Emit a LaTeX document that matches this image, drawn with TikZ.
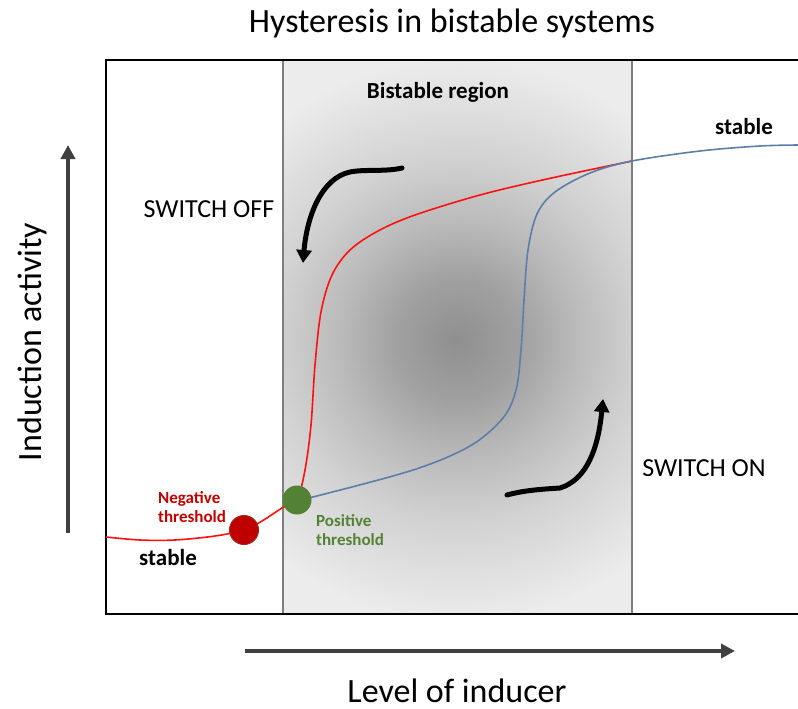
\documentclass[tikz,border=0pt]{standalone}
\usepackage{fontspec}
\setmainfont{Carlito}
\usetikzlibrary{arrows.meta}

\definecolor{thrred}{HTML}{C00000}
\definecolor{thrredrim}{HTML}{9A2A20}
\definecolor{thrgreen}{HTML}{548235}
\definecolor{curvered}{HTML}{FF1010}
\definecolor{curveblue}{HTML}{5A7FA8}
\definecolor{axisgray}{HTML}{404040}
\definecolor{bandedge}{HTML}{7F7F7F}

% grey levels of the bistable band, from its centre outwards
\definecolor{shA}{gray}{0.56}
\definecolor{shB}{gray}{0.63}
\definecolor{shC}{gray}{0.73}
\definecolor{shD}{gray}{0.82}
\definecolor{shE}{gray}{0.925}
\pgfdeclareradialshading{bistableshade}{\pgfpoint{0bp}{0bp}}{%
  color(0bp)=(shA); color(5.5bp)=(shB); color(10.5bp)=(shC);
  color(16bp)=(shD); color(25bp)=(shE); color(50bp)=(shE)}

\begin{document}
\begin{tikzpicture}[x=1pt,y=-1pt,
  bigtext/.style={font=\fontsize{34}{40}\selectfont, inner sep=0},
  switchtext/.style={font=\fontsize{26}{30}\selectfont, inner sep=0},
  boldlabel/.style={font=\fontsize{23}{27}\selectfont\bfseries, inner sep=0},
  thrlabel/.style={font=\fontsize{17}{19.5}\selectfont\bfseries, inner sep=0, align=left},
  axisarrow/.style={draw=axisgray, line width=4pt, -{Triangle[length=14pt,width=14pt]}},
  turnarrow/.style={draw=black, line width=5pt, line cap=round, -{Triangle[length=13pt,width=15pt]}},
  redcurve/.style={draw=curvered, line width=1.6pt},
  bluecurve/.style={draw=curveblue, line width=1.6pt},
  dot/.style={circle, inner sep=0, minimum size=29pt}]

\useasboundingbox (0,0) rectangle (798,709);

% shaded bistable band (round glow, clipped to the band) and its borders
\begin{scope}
  \clip (283,60) rectangle (632,614);
  \shade[shading=bistableshade] (176,58) rectangle (740,622);
\end{scope}
\draw[bandedge, line width=1.4pt] (283,60) -- (283,614) (632,60) -- (632,614);

% plot frame (open to the right)
\draw[black, line width=2pt] (810,60) -- (106,60) -- (106,614) -- (810,614);

% title and axes
\node[bigtext, anchor=base] (title) at (452,33) {Hysteresis in bistable systems};
\coordinate (ybot) at (68,533);
\coordinate (ytop) at (68,145);
\draw[axisarrow] (ybot) -- (ytop);
\node[bigtext, rotate=90, anchor=base] (ylabel) at (41,342) {Induction activity};
\coordinate (xleft) at (245,651);
\coordinate (xright) at (735,651);
\draw[axisarrow] (xleft) -- (xright);
\node[bigtext, anchor=base] (xlabel) at (457,702) {Level of inducer};

% thresholds
\coordinate (negthrpos) at (244,530);
\coordinate (posthrpos) at (297,500);

% switch-off branch
\draw[redcurve] plot[smooth, tension=0.55] coordinates {
  (106,537) (140,540) (175,540) (215,536) (244,530) (262,521) (282,508)
  (297,499) (305,470) (311,425) (315,365) (321,312) (332,275) (350,250)
  (378,231) (415,215) (480,195) (547,179) (632,161)};

% switch-on branch
\draw[bluecurve] plot[smooth, tension=0.55] coordinates {
  (297,500) (313,497) (413,470) (470,446) (503,418) (516,390) (521,350)
  (524,300) (528,250) (537,214) (555,192) (590,173) (632,161) (700,151)
  (760,146) (800,145)};

\node[dot, fill=thrred, draw=thrredrim, line width=1pt] (negthr) at (negthrpos) {};
\node[dot, fill=thrgreen] (posthr) at (posthrpos) {};

\node[thrlabel, text=thrred, anchor=north west] (neglabel) at (158,491) {Negative\\threshold};
\node[thrlabel, text=thrgreen, anchor=north west] (poslabel) at (316,514) {Positive\\threshold};

% text labels
\node[boldlabel, anchor=base] (bistable) at (438,99) {Bistable region};
\node[boldlabel, anchor=base] (stabletop) at (744,134) {stable};
\node[boldlabel, anchor=base] (stablebot) at (168,565) {stable};
\node[switchtext, anchor=base] (switchoff) at (209,217) {SWITCH OFF};
\node[switchtext, anchor=base] (switchon) at (704,476) {SWITCH ON};

% direction arrows
\coordinate (offstart) at (402,168);
\coordinate (offend) at (303,263);
\draw[turnarrow] (offstart) .. controls (385,172) and (365,169) .. (350,172)
  .. controls (322,178) and (307,215) .. (offend);
\coordinate (onstart) at (507,495);
\coordinate (onend) at (603,399);
\draw[turnarrow] (onstart) .. controls (525,490) and (545,489) .. (560,488)
  .. controls (586,480) and (598,450) .. (onend);
\end{tikzpicture}
\end{document}
